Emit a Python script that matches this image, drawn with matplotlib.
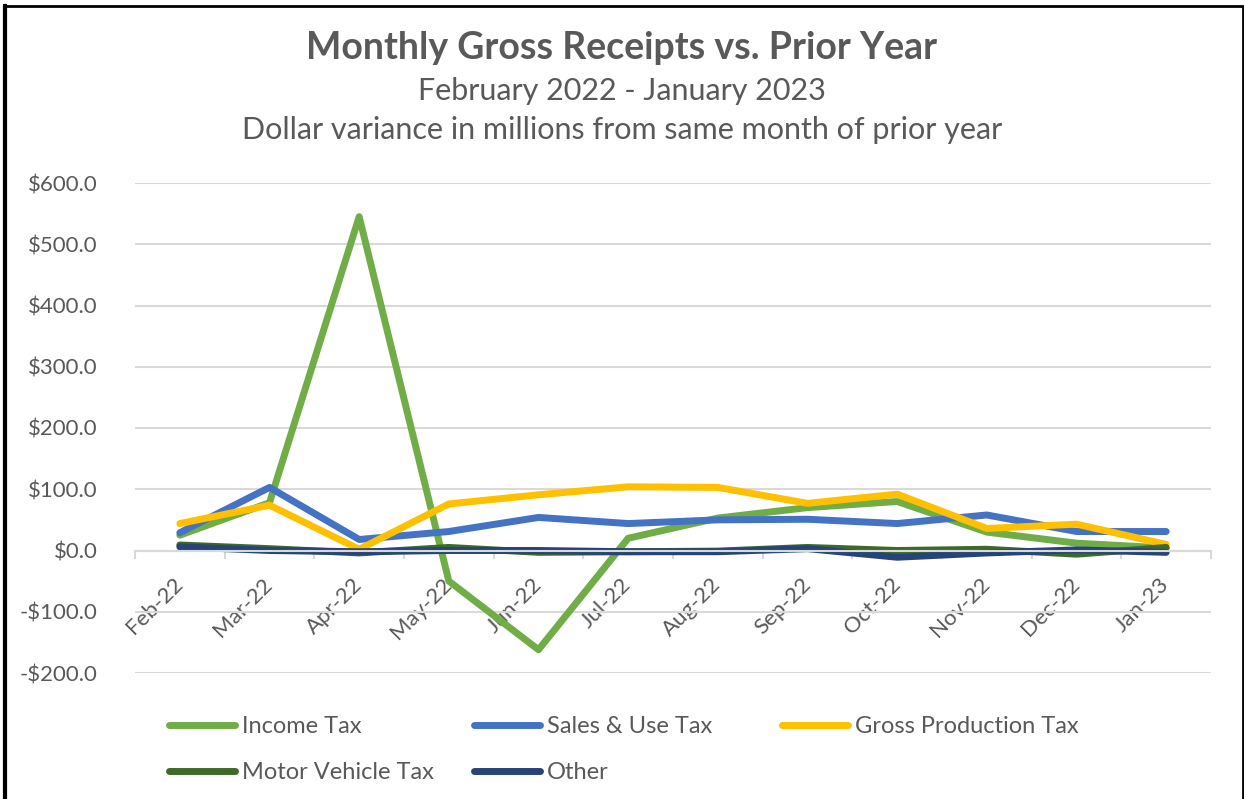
import numpy as np
import matplotlib.pyplot as plt
from matplotlib.lines import Line2D
from matplotlib.patches import Rectangle

plt.rcParams['font.family'] = ['Lato', 'DejaVu Sans']

months = ['Feb-22', 'Mar-22', 'Apr-22', 'May-22', 'Jun-22', 'Jul-22',
          'Aug-22', 'Sep-22', 'Oct-22', 'Nov-22', 'Dec-22', 'Jan-23']

income_tax = [25, 78, 545, -50, -162, 20, 53, 70, 80, 30, 12, 4]
sales_use_tax = [29, 103, 18, 31, 54, 44, 50, 51, 44, 58, 31, 31]
gross_production_tax = [44, 74, 2, 76, 91, 104, 103, 77, 92, 36, 43, 10]
motor_vehicle_tax = [9, 3, -4, 5, -3, -2, -1, 5, 0, 2, -6, 5]
other = [6, 0, -2, 0, 0, -2, -2, 3, -11, -4, 1, -3]

series = [
    ('Income Tax', income_tax, '#70AD47'),
    ('Sales & Use Tax', sales_use_tax, '#4472C4'),
    ('Gross Production Tax', gross_production_tax, '#FFC000'),
    ('Motor Vehicle Tax', motor_vehicle_tax, '#3D6A2A'),
    ('Other', other, '#264478'),
]

TXT = '#595959'
GRID = '#D9D9D9'

fig = plt.figure(figsize=(12.44, 7.99), dpi=100)
ax = fig.add_axes([135 / 1244, 1 - 673 / 799, (1211 - 135) / 1244, (673 - 183) / 799])

x = np.arange(len(months))
handles = []
for name, vals, col in series:
    ln, = ax.plot(x, vals, color=col, lw=5, solid_capstyle='round',
                  solid_joinstyle='round', label=name)
    handles.append(ln)

ax.set_xlim(-0.5, len(months) - 0.5)
ax.set_ylim(-200, 600)
ax.set_yticks(np.arange(-200, 601, 100))
ax.yaxis.set_major_formatter(plt.FuncFormatter(
    lambda v, _: f"${v:,.1f}" if v >= 0 else f"-${-v:,.1f}"))
ax.grid(axis='y', color=GRID, lw=1.5)
ax.set_axisbelow(True)
ax.tick_params(axis='y', length=0, labelsize=16, labelcolor=TXT, pad=27)

for s in ['top', 'right', 'left']:
    ax.spines[s].set_visible(False)
ax.spines['bottom'].set_position(('data', 0))
ax.spines['bottom'].set_color(GRID)
ax.spines['bottom'].set_linewidth(1.5)
ax.set_xticks(x)
ax.set_xticks(np.arange(-0.5, len(months)), minor=True)
ax.tick_params(axis='x', which='minor', length=6, width=1.5, color=GRID, direction='out')
ax.tick_params(axis='x', which='major', length=0, pad=22)
ax.set_xticklabels(months, rotation=45, ha='right', va='center',
                   rotation_mode='anchor', fontsize=16, color=TXT)

fig.text(0.5, 1 - 48 / 799, 'Monthly Gross Receipts vs. Prior Year', ha='center',
         va='center', fontsize=27, fontweight='bold', color=TXT)
fig.text(0.5, 1 - 91 / 799, 'February 2022 - January 2023', ha='center',
         va='center', fontsize=22, color=TXT)
fig.text(0.5, 1 - 130 / 799, 'Dollar variance in millions from same month of prior year',
         ha='center', va='center', fontsize=22, color=TXT)

# legend: three columns, Excel style
cols = [[0, 3], [1, 4], [2]]
xs = [169 / 1244, 474 / 1244, 782 / 1244]
for c, xpos in zip(cols, xs):
    leg = fig.legend([handles[i] for i in c], [series[i][0] for i in c],
                     loc='upper left', bbox_to_anchor=(xpos, 1 - 716 / 799),
                     frameon=False, fontsize=17, handlelength=2.8,
                     handletextpad=0.3, labelspacing=1.05, labelcolor=TXT,
                     borderaxespad=0, borderpad=0)

# outer frame
fig.patches.append(Rectangle((5 / 1244, -0.05), 1237.5 / 1244, 1 - 6 / 799 + 0.05,
                             transform=fig.transFigure, fill=False,
                             edgecolor='black', lw=2))
fig.add_artist(Line2D([5 / 1244, 5 / 1244], [-0.01, 1 - 6 / 799],
                      transform=fig.transFigure, color='black', lw=3))

fig.savefig('out.png', dpi=100)
